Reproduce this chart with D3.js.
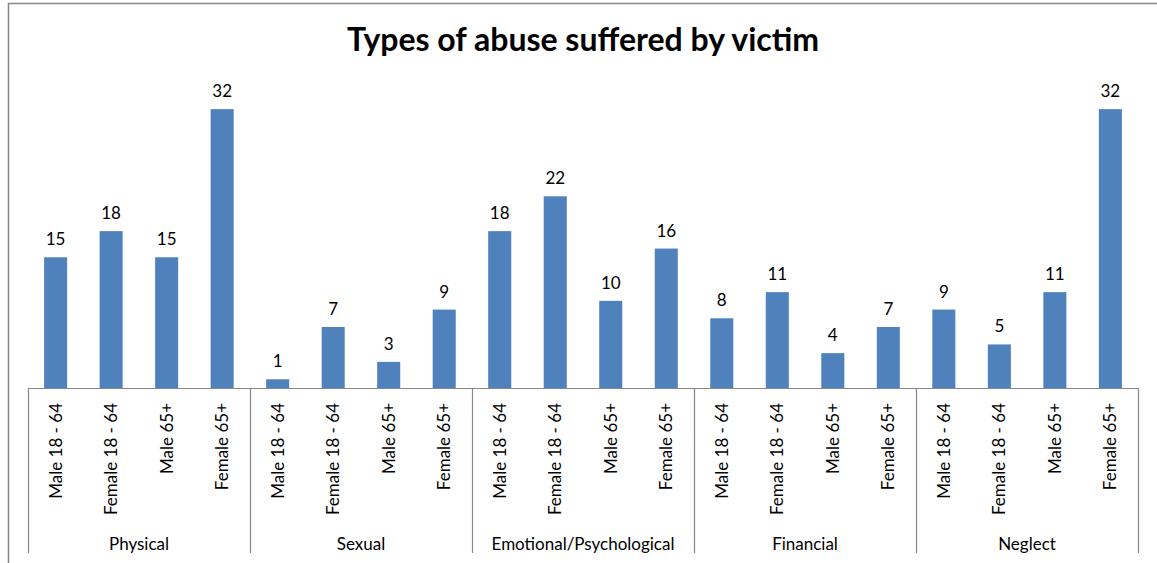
<!DOCTYPE html>
<html lang="en">
<head>
  <meta charset="UTF-8">
  <title>Types of abuse suffered by victim</title>
  <script src="https://d3js.org/d3.v7.min.js"></script>
  <style>
    body {
      margin: 0;
      background: #ffffff;
      font-family: Lato, "Open Sans", sans-serif;
    }
    svg text {
      fill: #000;
    }
  </style>
</head>
<body>
  <svg id="chart"></svg>

  <script>
    // data
    const groups = ["Physical", "Sexual", "Emotional/Psychological", "Financial", "Neglect"];
    const subgroups = ["Male 18 - 64", "Female 18 - 64", "Male 65+", "Female 65+"];
    const physical = [15, 18, 15, 32];
    const sexual = [1, 7, 3, 9];
    const emotional = [18, 22, 10, 16];
    const financial = [8, 11, 4, 7];
    const neglect = [9, 5, 11, 32];

    const seriesByGroup = [physical, sexual, emotional, financial, neglect];

    const width = 1157;
    const height = 563;
    const margin = { left: 28, right: 19, top: 83, axisY: 388 };

    const svg = d3.select("#chart")
      .attr("width", width)
      .attr("height", height);

    // outer chart border (only left & top visible in crop)
    svg.append("rect")
      .attr("x", 8.5)
      .attr("y", 3.5)
      .attr("width", width + 10)
      .attr("height", height + 10)
      .attr("fill", "none")
      .attr("stroke", "#878787")
      .attr("stroke-width", 1.5);

    svg.append("text")
      .attr("x", 583)
      .attr("y", 51)
      .attr("text-anchor", "middle")
      .attr("font-size", "32px")
      .attr("font-weight", "bold")
      .text("Types of abuse suffered by victim");

    const rows = [];
    groups.forEach((g, gi) => {
      subgroups.forEach((s, si) => {
        rows.push({ key: g + "|" + s, group: g, sub: s, value: seriesByGroup[gi][si] });
      });
    });

    const x = d3.scaleBand()
      .domain(rows.map(d => d.key))
      .range([margin.left, width - margin.right])
      .paddingInner(0.585)
      .paddingOuter(0.29);

    const xGroup = d3.scaleBand()
      .domain(groups)
      .range([margin.left, width - margin.right]);

    const y = d3.scaleLinear()
      .domain([0, 35])
      .range([margin.axisY, margin.top]);

    // bars
    svg.selectAll("rect.bar")
      .data(rows)
      .join("rect")
      .attr("class", "bar")
      .attr("x", d => x(d.key))
      .attr("width", x.bandwidth())
      .attr("y", d => y(d.value))
      .attr("height", d => y(0) - y(d.value))
      .attr("fill", "#4f81bd");

    // value labels
    svg.selectAll("text.val")
      .data(rows)
      .join("text")
      .attr("class", "val")
      .attr("x", d => x(d.key) + x.bandwidth() / 2)
      .attr("y", d => y(d.value) - 12)
      .attr("text-anchor", "middle")
      .attr("font-size", "17px")
      .text(d => d.value);

    // axis line
    svg.append("line")
      .attr("x1", margin.left)
      .attr("x2", width - margin.right)
      .attr("y1", margin.axisY + 0.5)
      .attr("y2", margin.axisY + 0.5)
      .attr("stroke", "#878787")
      .attr("stroke-width", 1.2);

    // group separators
    const seps = groups.map(g => xGroup(g)).concat([width - margin.right]);
    svg.selectAll("line.sep")
      .data(seps)
      .join("line")
      .attr("class", "sep")
      .attr("x1", d => Math.round(d) + 0.5)
      .attr("x2", d => Math.round(d) + 0.5)
      .attr("y1", margin.axisY)
      .attr("y2", 553)
      .attr("stroke", "#878787")
      .attr("stroke-width", 1.2);

    // rotated category labels
    svg.selectAll("text.cat")
      .data(rows)
      .join("text")
      .attr("class", "cat")
      .attr("transform", d => `translate(${x(d.key) + x.bandwidth() / 2 + 6},403) rotate(-90)`)
      .attr("text-anchor", "end")
      .attr("font-size", "17px")
      .text(d => d.sub);

    // group labels
    svg.selectAll("text.grp")
      .data(groups)
      .join("text")
      .attr("class", "grp")
      .attr("x", d => xGroup(d) + xGroup.bandwidth() / 2)
      .attr("y", 550)
      .attr("text-anchor", "middle")
      .attr("font-size", "17px")
      .text(d => d);
  </script>
</body>
</html>
